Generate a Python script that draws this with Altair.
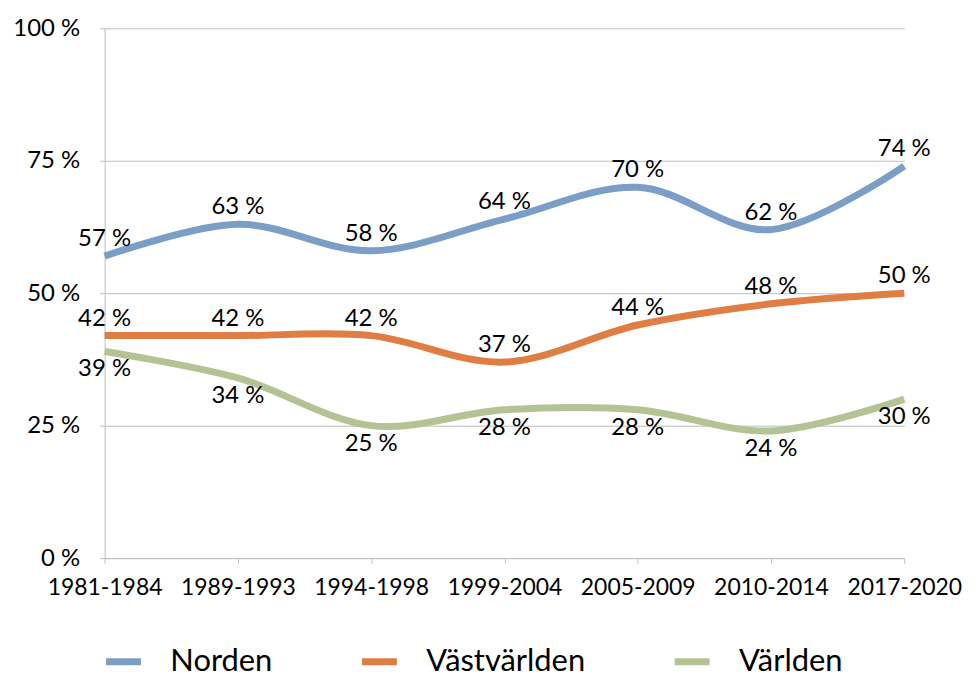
import altair as alt
import pandas as pd

periods = ["1981-1984", "1989-1993", "1994-1998", "1999-2004", "2005-2009", "2010-2014", "2017-2020"]
norden = [57, 63, 58, 64, 70, 62, 74]
vastvarlden = [42, 42, 42, 37, 44, 48, 50]
varlden = [39, 34, 25, 28, 28, 24, 30]
series_names = ["Norden", "Västvärlden", "Världen"]
series_colors = ["#7B9EC6", "#E07D42", "#B4C393"]

rows = []
for name, vals in zip(series_names, [norden, vastvarlden, varlden]):
    for p, v in zip(periods, vals):
        rows.append({"period": p, "series": name, "value": v, "label": f"{v} %"})
df = pd.DataFrame(rows)

FONT = "Lato"

x_enc = alt.X(
    "period:N",
    sort=periods,
    scale=alt.Scale(type="point", padding=0),
    axis=alt.Axis(
        title=None, labelAngle=0, labelFont=FONT, labelFontSize=23, labelColor="black",
        domainColor="#BEBEBE", tickColor="#BEBEBE", tickSize=5, labelPadding=14, grid=False,
        labelOverlap=False,
    ),
)
y_enc = alt.Y(
    "value:Q",
    scale=alt.Scale(domain=[0, 100], nice=False),
    axis=alt.Axis(
        title=None, values=[0, 25, 50, 75, 100], labelExpr="datum.value + ' %'",
        labelFont=FONT, labelFontSize=24, labelColor="black", labelPadding=20,
        domainColor="#BEBEBE", tickColor="#BEBEBE", tickSize=5,
        grid=True, gridColor="#BEBEBE", gridWidth=1,
    ),
)
color_enc = alt.Color(
    "series:N",
    scale=alt.Scale(domain=series_names, range=series_colors),
    sort=series_names,
    legend=alt.Legend(
        title=None, orient="none", direction="horizontal", legendX=-2, legendY=615,
        symbolType="stroke", symbolSize=1225, symbolStrokeWidth=7,
        labelFont=FONT, labelFontSize=31, labelColor="black", labelOffset=26,
        labelLimit=0, columnPadding=75, padding=0,
    ),
)

base = alt.Chart(df).encode(x=x_enc, y=y_enc)

lines = base.mark_line(interpolate="cardinal", strokeWidth=7).encode(color=color_enc)

text_above = base.transform_filter(
    alt.FieldOneOfPredicate(field="series", oneOf=["Norden", "Västvärlden"])
).mark_text(dy=-17, font=FONT, fontSize=24, color="black").encode(text="label:N")

text_below = base.transform_filter(
    alt.FieldEqualPredicate(field="series", equal="Världen")
).mark_text(dy=18, font=FONT, fontSize=24, color="black").encode(text="label:N")

chart = (
    alt.layer(lines, text_above, text_below)
    .properties(
        width=803, height=532,
        autosize=alt.AutoSizeParams(type="none"),
        padding={"left": 97, "top": 19, "right": 62, "bottom": 121},
        background="white",
    )
    .configure_view(stroke=None)
)

chart.save("out.html", embed_options={"renderer": "svg", "actions": False})
